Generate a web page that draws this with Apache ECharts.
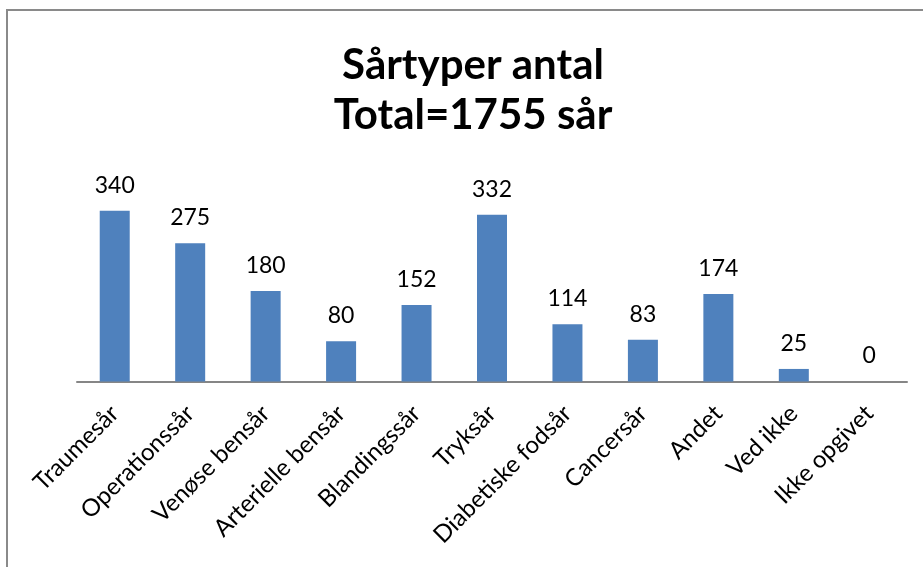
<!DOCTYPE html>
<html>
<head>
<meta charset="utf-8">
<script src="https://cdn.jsdelivr.net/npm/echarts@6/dist/echarts.min.js"></script>
<style>
  html, body { margin: 0; padding: 0; background: #fff; }
  #chart { width: 923px; height: 567px; }
</style>
</head>
<body>
<div id="chart"></div>
<script>
// sårtyper og antal
const categories = ['Traumesår', 'Operationssår', 'Venøse bensår', 'Arterielle bensår', 'Blandingssår',
  'Tryksår', 'Diabetiske fodsår', 'Cancersår', 'Andet', 'Ved ikke', 'Ikke opgivet']
const counts = [340, 275, 180, 80, 152, 332, 114, 83, 174, 25, 0]
const titleLines = ['Sårtyper antal', 'Total=1755 sår']

const chart = echarts.init(document.getElementById('chart'))
const font = 'Lato, "Open Sans", sans-serif'

const option = {
  animation: false,
  // ramme om diagrammet
  graphic: [{
    type: 'rect',
    shape: { x: 7, y: 10, width: 1200, height: 1200 },
    style: { fill: 'none', stroke: '#8a8a8a', lineWidth: 2 },
    silent: true
  }],
  title: {
    text: titleLines.join('\n'),
    left: 468,
    top: 35,
    textAlign: 'center',
    textStyle: {
      fontFamily: font,
      fontWeight: 'bold',
      fontSize: 42,
      lineHeight: 50,
      color: '#000'
    }
  },
  grid: {
    left: 77,
    right: 16,
    top: 180.5,
    bottom: 185.5,
    containLabel: false
  },
  xAxis: {
    type: 'category',
    data: categories,
    axisLine: { lineStyle: { color: '#868686', width: 2 } },
    axisTick: { show: false },
    axisLabel: {
      interval: 0,
      rotate: 45,
      margin: 28,
      fontFamily: font,
      fontSize: 24,
      color: '#000'
    }
  },
  yAxis: {
    type: 'value',
    min: 0,
    max: 400,
    show: false,
    splitLine: { show: false }
  },
  series: [{
    type: 'bar',
    data: counts,
    barWidth: 30,
    itemStyle: { color: '#4F81BD' },
    label: {
      show: true,
      position: 'top',
      distance: 14,
      fontFamily: font,
      fontSize: 23,
      color: '#000'
    }
  }]
}
chart.setOption(option)
</script>
</body>
</html>
